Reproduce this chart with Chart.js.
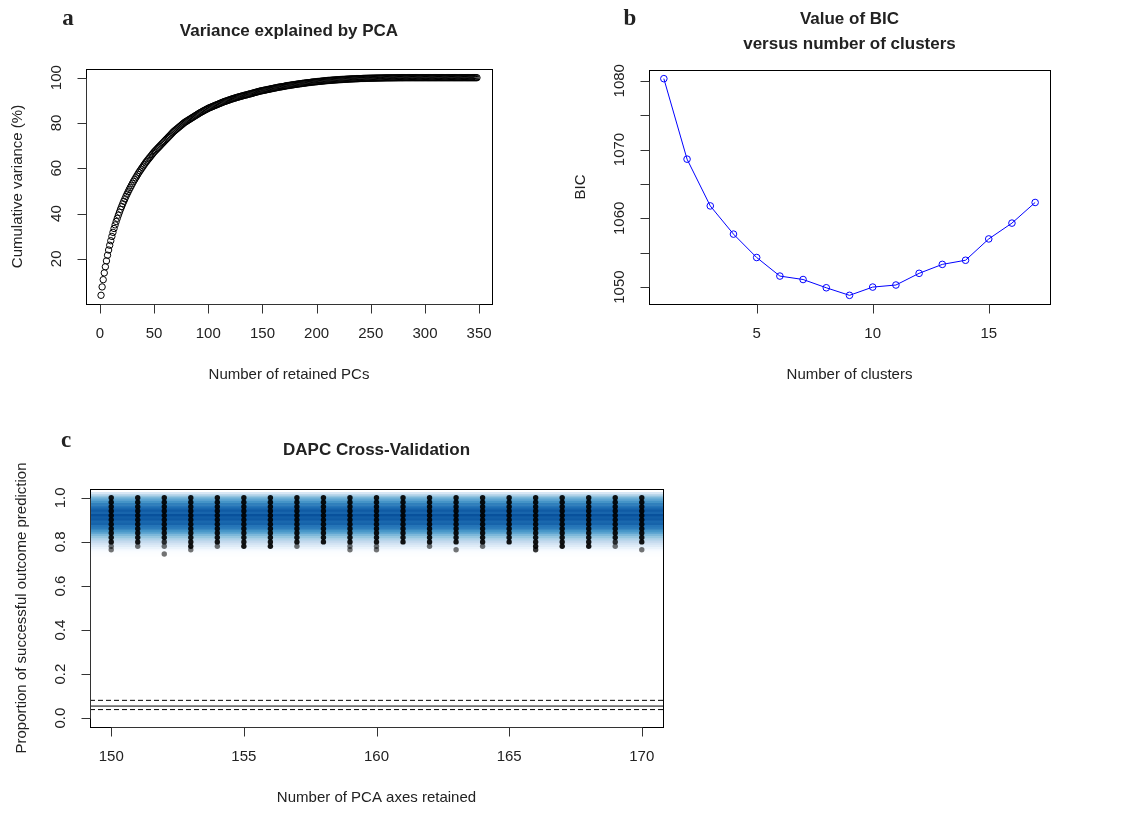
<!DOCTYPE html>
<html><head><meta charset="utf-8">
<script src="https://cdn.jsdelivr.net/npm/chart.js@4.4.1/dist/chart.umd.min.js"></script>
<style>
html,body{margin:0;padding:0;background:#fff;}
body{width:1135px;height:818px;position:relative;overflow:hidden;}
canvas{position:absolute;}
#ca{left:0;top:0;} #cb{left:560px;top:0;} #cc{left:0;top:410px;}
</style></head><body>
<canvas id="ca" width="560" height="405"></canvas>
<canvas id="cb" width="575" height="405"></canvas>
<canvas id="cc" width="690" height="408"></canvas>
<script>
// ---------- Panel a: cumulative variance explained by PCA (PC 1..348) ----------
const pcaCumVariance = [
 3.9,7.6,10.8,13.8,16.5,19.1,21.6,23.9,26.0,28.0,
 29.9,31.7,33.4,35.0,36.5,37.9,39.3,40.6,41.9,43.1,
 44.3,45.4,46.5,47.6,48.6,49.6,50.6,51.5,52.4,53.3,
 54.2,55.0,55.8,56.6,57.4,58.2,58.9,59.6,60.3,61.0,
 61.7,62.4,63.0,63.6,64.2,64.8,65.4,66.0,66.6,67.2,
 67.7,68.2,68.7,69.2,69.7,70.2,70.7,71.2,71.7,72.2,
 72.7,73.2,73.7,74.2,74.7,75.2,75.7,76.2,76.6,77.0,
 77.4,77.8,78.2,78.6,79.0,79.4,79.8,80.2,80.5,80.8,
 81.1,81.4,81.7,82.0,82.3,82.6,82.9,83.2,83.5,83.8,
 84.1,84.4,84.7,84.9,85.2,85.5,85.7,86.0,86.2,86.5,
 86.7,86.9,87.1,87.3,87.5,87.7,87.9,88.1,88.3,88.5,
 88.7,88.9,89.1,89.3,89.5,89.6,89.8,90.0,90.1,90.3,
 90.5,90.6,90.8,90.9,91.1,91.2,91.4,91.5,91.6,91.8,
 91.9,92.0,92.2,92.3,92.4,92.5,92.7,92.8,92.9,93.0,
 93.2,93.3,93.45,93.6,93.7,93.85,94.0,94.1,94.2,94.3,
 94.4,94.5,94.6,94.7,94.8,94.9,95.0,95.1,95.2,95.3,
 95.4,95.5,95.6,95.7,95.8,95.9,95.95,96.0,96.1,96.2,
 96.3,96.4,96.5,96.55,96.6,96.7,96.8,96.85,96.9,97.0,
 97.1,97.15,97.2,97.3,97.35,97.4,97.5,97.55,97.6,97.7,
 97.75,97.8,97.85,97.9,98.0,98.05,98.1,98.15,98.2,98.25,
 98.3,98.35,98.4,98.45,98.5,98.55,98.6,98.65,98.7,98.75,
 98.8,98.82,98.86,98.9,98.94,98.98,99.0,99.04,99.08,99.1,
 99.14,99.17,99.2,99.23,99.26,99.29,99.32,99.35,99.38,99.4,
 99.43,99.45,99.48,99.5,99.52,99.54,99.56,99.58,99.6,99.62,
 99.64,99.66,99.68,99.7,99.71,99.73,99.74,99.76,99.77,99.78,
 99.8,99.81,99.82,99.83,99.84,99.85,99.86,99.87,99.88,99.89,
 99.9,99.91,99.92,99.92,99.93,99.94,99.94,99.95,99.95,99.96,
 99.96,99.97,99.97,99.97,99.98,99.98,99.98,99.99,99.99,99.99,
 100,100,100,100,100,100,100,100,100,100,
 100,100,100,100,100,100,100,100,100,100,
 100,100,100,100,100,100,100,100,100,100,
 100,100,100,100,100,100,100,100,100,100,
 100,100,100,100,100,100,100,100,100,100,
 100,100,100,100,100,100,100,100,100,100,
 100,100,100,100,100,100,100,100
];
const pcaXTicks = [0,50,100,150,200,250,300,350];
const pcaYTicks = [20,40,60,80,100];

// ---------- Panel b: BIC versus number of clusters ----------
const bicClusters = [1,2,3,4,5,6,7,8,9,10,11,12,13,14,15,16,17];
const bicValues = [1080.3,1068.6,1061.8,1057.7,1054.3,1051.6,1051.1,1049.9,1048.8,1050.0,1050.3,1052.0,1053.3,1053.9,1057.0,1059.3,1062.3];
const bicXTicks = [5,10,15];
const bicYTicks = [1050,1055,1060,1065,1070,1075,1080];
const bicYLabels = [1050,1060,1070,1080];

// ---------- Panel c: DAPC cross-validation ----------
const cvAxes = [150,151,152,153,154,155,156,157,158,159,160,161,162,163,164,165,166,167,168,169,170];
const cvLevels = [1.00,0.98,0.96,0.94,0.92,0.90,0.88,0.86,0.84,0.82,0.80,0.78];
const cvLowestFrequent = [0.80,0.80,0.82,0.78,0.80,0.78,0.78,0.80,0.80,0.80,0.80,0.80,0.80,0.80,0.80,0.80,0.78,0.78,0.78,0.82,0.80];
// [axes retained, success proportion, replicate count] for sparse outcomes
const cvRare = [
 [150,0.78,1],[150,0.764,1],[151,0.78,1],[152,0.80,2],[152,0.78,1],[152,0.745,1],
 [153,0.764,1],[154,0.78,1],[157,0.78,1],[159,0.78,1],[159,0.764,1],[160,0.78,1],
 [160,0.764,1],[162,0.78,1],[163,0.764,1],[164,0.78,1],[166,0.764,2],[169,0.80,2],
 [169,0.78,1],[170,0.764,1]
];
const cvDensityY = [1.02,1.01,1.00,0.99,0.98,0.97,0.96,0.95,0.94,0.93,0.92,0.91,0.90,0.89,0.88,0.87,0.86,0.85,0.84,0.83,0.82,0.81,0.80,0.79,0.78,0.77,0.76,0.75,0.74];
const cvDensity  = [0.28,0.45,0.58,0.66,0.74,0.82,0.86,0.91,0.96,0.92,1.00,0.95,0.97,0.91,0.93,0.86,0.83,0.74,0.68,0.58,0.52,0.44,0.38,0.31,0.25,0.19,0.13,0.07,0.03];
const cvRandomMean = 0.055, cvRandomLow = 0.039, cvRandomHigh = 0.081;
const cvXTicks = [150,155,160,165,170];
const cvYTicks = [0,0.2,0.4,0.6,0.8,1.0];

// ---------- helpers ----------
const FONT = '"Liberation Sans", Arial, Helvetica, sans-serif';
function ext(lo, hi){ const d=(hi-lo)*0.04; return [lo-d, hi+d]; }
const blues = ['#ffffff','#f7fbff','#deebf7','#c6dbef','#9ecae1','#6baed6','#4292c6','#2171b5','#08519c'];
function hex(c){ return [parseInt(c.slice(1,3),16),parseInt(c.slice(3,5),16),parseInt(c.slice(5,7),16)]; }
function blueColor(d){
  const t = Math.max(0,Math.min(1,d))*(blues.length-1);
  const i = Math.min(blues.length-2, Math.floor(t)), f = t-i;
  const a = hex(blues[i]), b = hex(blues[i+1]);
  return 'rgb(' + a.map((v,k)=>Math.round(v+(b[k]-v)*f)).join(',') + ')';
}

const rAxes = {
  id: 'rAxes',
  afterDraw(chart, args, o) {
    const {ctx, chartArea: a, scales: {x, y}} = chart;
    ctx.save();
    const L = Math.round(a.left)+0.5, T = Math.round(a.top)+0.5, R = Math.round(a.right)+0.5, B = Math.round(a.bottom)+0.5;
    ctx.strokeStyle = '#000'; ctx.lineWidth = 1;
    ctx.strokeRect(L, T, R-L, B-T);
    ctx.strokeStyle = '#333';
    const xp = o.xTicks.map(v => Math.round(x.getPixelForValue(v))+0.5);
    ctx.beginPath();
    ctx.moveTo(xp[0], B); ctx.lineTo(xp[xp.length-1], B);
    xp.forEach(p => { ctx.moveTo(p, B); ctx.lineTo(p, B+9); });
    const yp = o.yTicks.map(v => Math.round(y.getPixelForValue(v))+0.5);
    ctx.moveTo(L, yp[0]); ctx.lineTo(L, yp[yp.length-1]);
    yp.forEach(p => { ctx.moveTo(L, p); ctx.lineTo(L-9, p); });
    ctx.stroke();
    ctx.fillStyle = '#222';
    ctx.font = '15px ' + FONT;
    ctx.textAlign = 'center'; ctx.textBaseline = 'middle';
    o.xTicks.forEach(v => ctx.fillText(o.xFmt ? o.xFmt(v) : String(v), x.getPixelForValue(v), B+29));
    (o.yLabels || o.yTicks).forEach(v => {
      ctx.save(); ctx.translate(L-30, y.getPixelForValue(v)); ctx.rotate(-Math.PI/2);
      ctx.fillText(o.yFmt ? o.yFmt(v) : String(v), 0, 0); ctx.restore();
    });
    const cx = (a.left+a.right)/2, cy = (a.top+a.bottom)/2;
    ctx.fillText(o.xTitle, cx, B+70);
    ctx.save(); ctx.translate(L-69, cy); ctx.rotate(-Math.PI/2); ctx.fillText(o.yTitle, 0, 0); ctx.restore();
    ctx.font = 'bold 17px ' + FONT;
    o.title.forEach((t,i) => ctx.fillText(t, cx, o.titleY + i*25));
    ctx.font = 'bold 23px "Liberation Serif", "Times New Roman", serif';
    ctx.fillText(o.letter, o.letterX, o.letterY);
    ctx.restore();
  }
};
Chart.register(rAxes);

function baseOptions(pad, xr, yr, axes) {
  return {
    responsive:false, animation:false, devicePixelRatio:1, events:[],
    layout:{padding:pad},
    plugins:{legend:{display:false}, tooltip:{enabled:false}, title:{display:false}, rAxes:axes},
    scales:{
      x:{type:'linear', display:false, min:xr[0], max:xr[1], offset:false, beginAtZero:false, grace:0},
      y:{type:'linear', display:false, min:yr[0], max:yr[1], offset:false, beginAtZero:false, grace:0}
    }
  };
}

// ---------- Chart a ----------
const aX = ext(1, pcaCumVariance.length), aY = ext(Math.min(...pcaCumVariance), Math.max(...pcaCumVariance));
new Chart(document.getElementById('ca'), {
  type:'scatter',
  data:{datasets:[{
    data: pcaCumVariance.map((v,i)=>({x:i+1, y:v})),
    pointStyle:'circle', pointRadius:3.2, borderWidth:1,
    borderColor:'#000', backgroundColor:'rgba(0,0,0,0)'
  }]},
  options: baseOptions({left:86, top:69, right:68, bottom:101}, aX, aY, {
    xTicks:pcaXTicks, yTicks:pcaYTicks, xTitle:'Number of retained PCs', yTitle:'Cumulative variance (%)',
    title:['Variance explained by PCA'], titleY:31, letter:'a', letterX:68, letterY:19
  })
});

// ---------- Chart b ----------
const bX = ext(Math.min(...bicClusters), Math.max(...bicClusters)), bY = ext(Math.min(...bicValues), Math.max(...bicValues));
new Chart(document.getElementById('cb'), {
  type:'line',
  data:{datasets:[{
    data: bicClusters.map((k,i)=>({x:k, y:bicValues[i]})),
    borderColor:'#0000ff', borderWidth:1, tension:0,
    pointStyle:'circle', pointRadius:3.3, pointBorderWidth:1,
    pointBorderColor:'#0000ff', pointBackgroundColor:'rgba(0,0,0,0)'
  }]},
  options: baseOptions({left:89, top:70, right:85, bottom:101}, bX, bY, {
    xTicks:bicXTicks, yTicks:bicYTicks, yLabels:bicYLabels, xTitle:'Number of clusters', yTitle:'BIC',
    title:['Value of BIC','versus number of clusters'], titleY:19, letter:'b', letterX:70, letterY:19
  })
});

// ---------- Chart c ----------
const cX = ext(Math.min(...cvAxes), Math.max(...cvAxes)), cY = ext(0, 1);
const frequentPts = [];
cvAxes.forEach((ax,i) => cvLevels.filter(l => l >= cvLowestFrequent[i]-1e-9).forEach(l => frequentPts.push({x:ax, y:l})));
new Chart(document.getElementById('cc'), {
  type:'scatter',
  data:{datasets:[
    { type:'bar', indexAxis:'y', order:5,
      data: cvDensityY.map(v => ({y:v, x:[cX[0], cX[1]]})),
      backgroundColor: cvDensity.map(blueColor), borderWidth:0,
      barPercentage:1, categoryPercentage:1 },
    { type:'scatter', order:3, data: frequentPts,
      pointRadius:2.7, borderWidth:0, backgroundColor:'rgba(0,0,0,0.92)' },
    { type:'scatter', order:2, data: cvRare.map(r => ({x:r[0], y:r[1]})),
      pointRadius:2.7, borderWidth:0,
      backgroundColor: cvRare.map(r => 'rgba(0,0,0,' + (r[2] > 1 ? 0.8 : 0.55) + ')') },
    { type:'line', order:1, data:[{x:cX[0], y:cvRandomHigh},{x:cX[1], y:cvRandomHigh}],
      borderColor:'#000', borderWidth:1, borderDash:[5,3], pointRadius:0 },
    { type:'line', order:1, data:[{x:cX[0], y:cvRandomMean},{x:cX[1], y:cvRandomMean}],
      borderColor:'#000', borderWidth:1, pointRadius:0 },
    { type:'line', order:1, data:[{x:cX[0], y:cvRandomLow},{x:cX[1], y:cvRandomLow}],
      borderColor:'#000', borderWidth:1, borderDash:[5,3], pointRadius:0 }
  ]},
  options: baseOptions({left:90, top:79, right:27, bottom:91}, cX, cY, {
    xTicks:cvXTicks, yTicks:cvYTicks, yFmt:v=>v.toFixed(1), xTitle:'Number of PCA axes retained',
    yTitle:'Proportion of successful outcome prediction',
    title:['DAPC Cross-Validation'], titleY:40, letter:'c', letterX:66, letterY:31
  })
});
</script>
</body></html>
